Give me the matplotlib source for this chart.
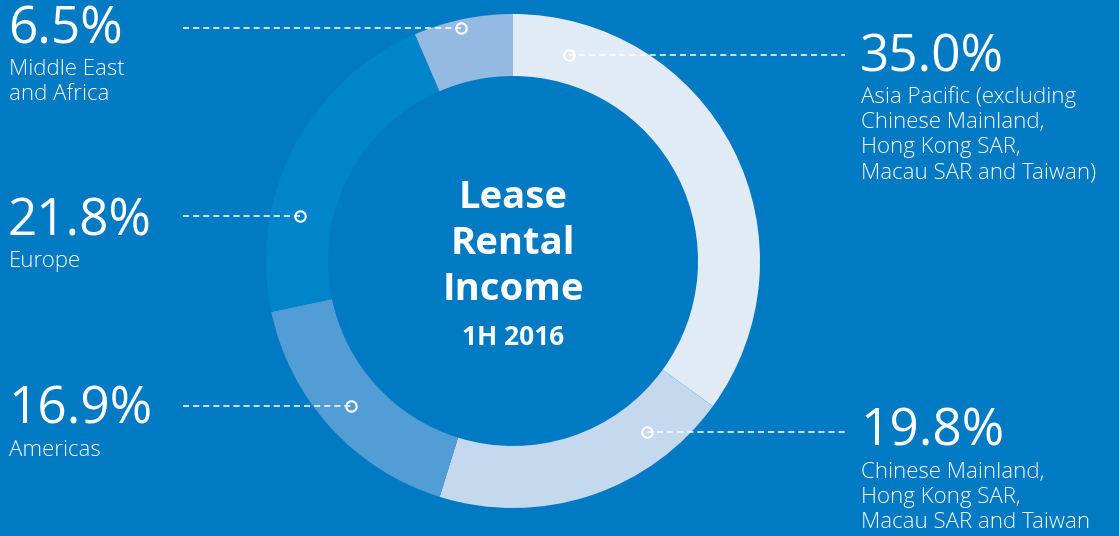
import matplotlib
matplotlib.use("Agg")
import matplotlib.pyplot as plt

# data (clockwise from 12 o'clock)
regions = ["Asia Pacific", "Chinese Mainland", "Americas", "Europe", "Middle East and Africa"]
shares = [35.0, 19.8, 16.9, 21.8, 6.5]
colors = ["#E1EBF6", "#C4D8EE", "#529DD6", "#0084CA", "#93BAE3"]

pct_labels = ["35.0%", "19.8%", "16.9%", "21.8%", "6.5%"]
name_labels = [
    ["Asia Pacific (excluding", "Chinese Mainland,", "Hong Kong SAR,", "Macau SAR and Taiwan)"],
    ["Chinese Mainland,", "Hong Kong SAR,", "Macau SAR and Taiwan"],
    ["Americas"],
    ["Europe"],
    ["Middle East", "and Africa"],
]

BG = "#007AC2"
W, H = 1119, 536
plt.rcParams["font.family"] = ["Open Sans", "DejaVu Sans"]

fig = plt.figure(figsize=(W / 100, H / 100), dpi=100, facecolor=BG)
ax = fig.add_axes([0, 0, 1, 1])
ax.set_facecolor(BG)

def Y(py):
    # pixel row -> data y
    return H - py

cx, cy, R = 513, Y(261), 247
ax.pie(shares, colors=colors, startangle=90, counterclock=False,
       radius=R, center=(cx, cy),
       wedgeprops=dict(width=62, linewidth=0))

ax.set_xlim(0, W)
ax.set_ylim(0, H)
ax.set_aspect("equal")
ax.axis("off")

# leader lines: x_start, x_end, y, marker_x, side
leaders = [
    (569, 845, 55, 569, "right"),
    (647, 845, 432, 647, "right"),
    (183, 351, 406, 351, "left"),
    (183, 300, 216, 300, "left"),
    (183, 461, 28, 461, "left"),
]
pct_base = [71, 446, 424, 235, 43]

for (x0, x1, ly, mx, side), pct, lines, pb in zip(leaders, pct_labels, name_labels, pct_base):
    ax.plot([x0, x1], [Y(ly), Y(ly)], color="white", lw=1.1,
            dashes=(4, 2.6), solid_capstyle="butt", zorder=3)
    ax.plot([mx], [Y(ly)], marker="o", ms=7.5, mfc="none", mec="white", mew=1.5, zorder=4)
    tx = 861 if side == "right" else 9
    ax.text(tx - 1, Y(pb), pct, color="white", fontsize=37, ha="left", va="baseline")
    for i, line in enumerate(lines):
        ax.text(tx, Y(pb + 32 + 25 * i), line, color="white", fontsize=16,
                fontweight="light", ha="left", va="baseline")

# center title
for txt, base, fs in [("Lease", 208, 27.5), ("Rental", 254, 27.5), ("Income", 300, 27.5), ("1H 2016", 345, 19)]:
    ax.text(cx, Y(base), txt, color="white", fontsize=fs, fontweight="bold",
            ha="center", va="baseline")

fig.savefig("out.png", dpi=100, facecolor=BG)
